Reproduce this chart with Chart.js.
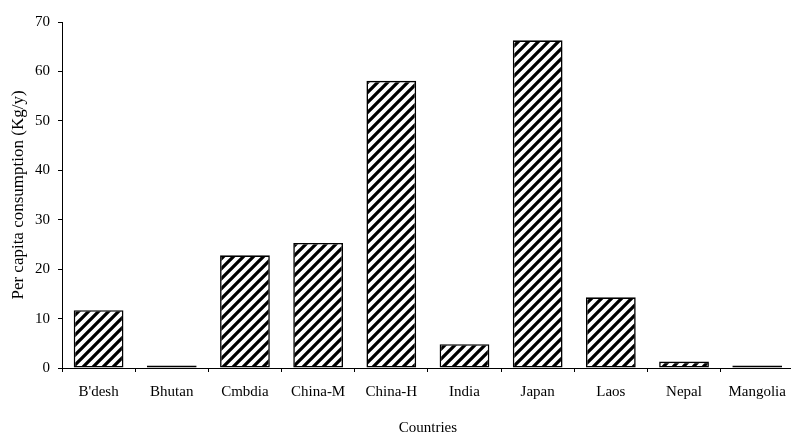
<!DOCTYPE html>
<html>
<head>
<meta charset="utf-8">
<script src="https://cdn.jsdelivr.net/npm/chart.js@4"></script>
<style>
	html, body { margin: 0; padding: 0; background: #fff; overflow: hidden; }
	#wrap { width: 797px; height: 432px; }
</style>
</head>
<body>
<div id="wrap"><canvas id="chart" width="797" height="432"></canvas></div>
<script>
(function () {
	'use strict';

	var countries = ["B'desh", 'Bhutan', 'Cmbdia', 'China-M', 'China-H', 'India', 'Japan', 'Laos', 'Nepal', 'Mangolia'];
	var consumption = [11.7, 0.5, 22.8, 25.3, 58.1, 4.8, 66.3, 14.3, 1.3, 0.5];
	var yTicks = [0, 10, 20, 30, 40, 50, 60, 70];

	var FONT = "'Liberation Serif', 'Times New Roman', serif";

	// diagonal "/" hatching like the original fill
	function hatch() {
		var s = 10;
		var c = document.createElement('canvas');
		c.width = s;
		c.height = s;
		var g = c.getContext('2d');
		g.fillStyle = '#fff';
		g.fillRect(0, 0, s, s);
		g.strokeStyle = '#000';
		g.lineWidth = 3.3;
		g.beginPath();
		g.moveTo(-2, s + 2); g.lineTo(s + 2, -2);
		g.moveTo(-2, 2); g.lineTo(2, -2);
		g.moveTo(s - 2, s + 2); g.lineTo(s + 2, s - 2);
		g.stroke();
		return g.createPattern(c, 'repeat');
	}

	Chart.defaults.font.family = FONT;
	Chart.defaults.font.size = 15;
	Chart.defaults.color = '#000';

	new Chart(document.getElementById('chart'), {
		type: 'bar',
		data: {
			labels: countries,
			datasets: [{
				data: consumption,
				backgroundColor: hatch(),
				borderColor: '#000',
				borderWidth: 1.6,
				borderSkipped: false,
				categoryPercentage: 1,
				barPercentage: 0.68
			}]
		},
		options: {
			responsive: false,
			animation: false,
			layout: { padding: { left: 0, right: 1, top: 22, bottom: 0 } },
			plugins: { legend: { display: false }, tooltip: { enabled: false } },
			scales: {
				x: {
					grid: { drawOnChartArea: false, drawTicks: true, tickLength: 4, color: '#000', offset: true },
					border: { display: true, color: '#000', width: 1 },
					ticks: { padding: 11, maxRotation: 0, autoSkip: false },
					title: { display: true, text: 'Countries', padding: { top: 0, bottom: -5 } },
					afterFit: function (scale) { scale.height = 64; }
				},
				y: {
					min: 0,
					max: 70,
					afterBuildTicks: function (scale) {
						scale.ticks = yTicks.map(function (v) { return { value: v }; });
					},
					grid: { drawOnChartArea: false, drawTicks: true, tickLength: 4, color: '#000' },
					border: { display: true, color: '#000', width: 1 },
					ticks: { padding: 8 },
					title: { display: true, text: 'Per capita consumption (Kg/y)', font: { size: 17 }, padding: { top: 8, bottom: 0 } },
					afterFit: function (scale) { scale.width = 62; }
				}
			}
		}
	});
})();
</script>
</body>
</html>
